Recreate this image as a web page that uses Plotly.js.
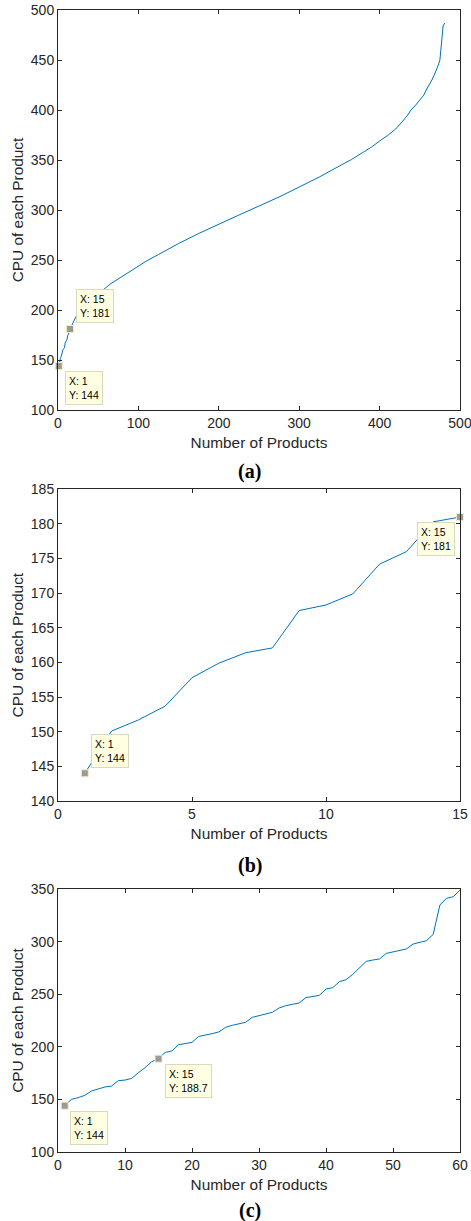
<!DOCTYPE html>
<html>
<head>
<meta charset="utf-8">
<script src="https://cdn.plot.ly/plotly-3.0.1.min.js"></script>
<style>html,body{margin:0;padding:0;background:#fff;}#chart{width:471px;height:1221px;}</style>
</head>
<body>
<div id="chart"></div>
<script>
// Panel (a): all products
var aX = [1,2,3,4,5,6,7,8,9,10,11,12,13,14,15,18,22,30,40,50,56,65,77,90,100,110,125,150,175,200,225,250,275,300,325,350,365,380,390,400,410,420,425,430,435,439,445,450,455,458,462,465,468,471,473,475,476,477,478,479,481];
var aY = [144,150.1,151.7,153.7,157.8,159.9,161.4,162.1,167.5,168.3,169.9,174.2,176.0,180.3,181,186,193,200,208,215.5,220,226,232,239,244,249,255.5,266.5,276.5,286,295,304,313,323,333,344,350.5,358,363,369,374.5,381,385,390,395,400,405,410,415,420,425,430,435,440,445,450,460,472,480,484,487];

// Panel (b): first 15 products
var bX = [1,2,3,4,5,6,7,8,9,10,11,12,13,14,15];
var bY = [144,150.1,151.7,153.7,157.8,159.9,161.4,162.1,167.5,168.3,169.9,174.2,176.0,180.3,181];

// Panel (c): first 60 products
var cX = [1,2,3,4,5,6,7,8,9,10,11,12,13,14,15,16,17,18,19,20,21,22,23,24,25,26,27,28,29,30,31,32,33,34,35,36,37,38,39,40,41,42,43,44,45,46,47,48,49,50,51,52,53,54,55,56,57,58,59,60];
var cY = [144,150,151.6,153.9,158.0,160.2,161.8,162.7,167.8,168.4,170.0,175.4,180.2,185.9,188.7,194.7,196.0,202.0,203.3,204.2,209.9,210.9,212.5,214.1,218.5,220.4,221.7,223.3,228.0,229.4,230.9,232.8,236.9,239.1,240.4,241.6,246.7,247.7,248.9,254.9,256.2,261.9,263.8,268.9,274.6,281.2,282.5,283.5,288.8,290.1,291.4,293.0,297.7,299.3,300.9,306.9,334.8,341.1,342.7,349.0];

// Data tips (x index into each series)
var tipsA = [1, 15];
var tipsB = [1, 15];
var tipsC = [1, 15];

var xTitle = "Number of Products";
var yTitle = "CPU of each Product";
var panelLabels = ["(a)", "(b)", "(c)"];

function valAt(xs, ys, k) { return ys[xs.indexOf(k)]; }
function fmt(v) { return (Math.round(v * 10) / 10).toString(); }

var lineColor = "#0072BD";
var axColor = "#262626";
var font = "Liberation Sans, Arial, Helvetica, sans-serif";

function lineTrace(xs, ys, n) {
  return {x: xs, y: ys, type: "scatter", mode: "lines", xaxis: "x" + n, yaxis: "y" + n,
    line: {color: lineColor, width: 1}, hoverinfo: "skip", showlegend: false};
}
function tipTrace(xs, ys, tips, n) {
  return {x: tips, y: tips.map(function (k) { return valAt(xs, ys, k); }), type: "scatter", mode: "markers",
    xaxis: "x" + n, yaxis: "y" + n, cliponaxis: false,
    marker: {symbol: "square", size: 7, color: "#9a9a9a", line: {color: "#f3ecc0", width: 1}},
    hoverinfo: "skip", showlegend: false};
}

var data = [
  lineTrace(aX, aY, ""), tipTrace(aX, aY, tipsA, ""),
  lineTrace(bX, bY, "2"), tipTrace(bX, bY, tipsB, "2"),
  lineTrace(cX, cY, "3"), tipTrace(cX, cY, tipsC, "3")
];

function xax(range, dtick, anchor) {
  return {range: range, dtick: dtick, tick0: 0, domain: [0, 1], anchor: anchor,
    showline: true, mirror: "ticks", linecolor: axColor, linewidth: 1,
    ticks: "inside", ticklen: 4, tickcolor: axColor, tickwidth: 1,
    showgrid: false, zeroline: false, fixedrange: true, ticklabeloverflow: "allow",
    tickfont: {family: font, size: 14, color: axColor},
    title: {text: xTitle, font: {family: font, size: 15.4, color: axColor}, standoff: 7}};
}
function yax(range, dtick, domain, anchor) {
  return {range: range, dtick: dtick, domain: domain, anchor: anchor,
    showline: true, mirror: "ticks", linecolor: axColor, linewidth: 1,
    ticks: "inside", ticklen: 4, tickcolor: axColor, tickwidth: 1,
    showgrid: false, zeroline: false, fixedrange: true, ticklabeloverflow: "allow",
    tickfont: {family: font, size: 14, color: axColor},
    title: {text: yTitle, font: {family: font, size: 15.4, color: axColor}, standoff: 3}};
}

function tip(xs, ys, k, n, xanchor, yanchor, xshift, yshift) {
  var v = valAt(xs, ys, k);
  return {xref: "x" + n, yref: "y" + n, x: k, y: v, showarrow: false,
    text: "X: " + k + "<br>Y: " + fmt(v), align: "left",
    xanchor: xanchor, yanchor: yanchor, xshift: xshift, yshift: yshift,
    font: {family: font, size: 10.5, color: "#000"},
    bgcolor: "#ffffe1", bordercolor: "#dcd8bc", borderwidth: 1, borderpad: 3};
}
function panel(label, y) {
  return {xref: "paper", yref: "paper", x: 0.4776, y: y, showarrow: false, text: "<b>" + label + "</b>",
    xanchor: "center", yanchor: "middle", font: {family: "Liberation Serif, Times New Roman, serif", size: 20, color: "#000"}};
}

var layout = {
  width: 471, height: 1221,
  margin: {l: 58, r: 11, t: 10, b: 69},
  paper_bgcolor: "#fff", plot_bgcolor: "#fff",
  showlegend: false,
  xaxis: xax([0, 500], 100, "y"),
  yaxis: yax([100, 500], 50, [0.64974, 1], "x"),
  xaxis2: xax([0, 15], 5, "y2"),
  yaxis2: yax([140, 185], 5, [0.30736, 0.58029], "x2"),
  xaxis3: xax([0, 60], 10, "y3"),
  yaxis3: yax([100, 350], 50, [0, 0.23030], "x3"),
  annotations: [
    tip(aX, aY, tipsA[0], "", "left", "top", 6, -5),
    tip(aX, aY, tipsA[1], "", "left", "bottom", 6, 6),
    tip(bX, bY, tipsB[0], "2", "left", "bottom", 6, 5),
    tip(bX, bY, tipsB[1], "2", "right", "top", -5, -5),
    tip(cX, cY, tipsC[0], "3", "left", "top", 5, -5),
    tip(cX, cY, tipsC[1], "3", "left", "top", 6, -5),
    panel(panelLabels[0], 0.5957),
    panel(panelLabels[1], 0.2513),
    panel(panelLabels[2], -0.0508)
  ]
};

Plotly.newPlot("chart", data, layout, {staticPlot: true, displayModeBar: false});
</script>
</body>
</html>
